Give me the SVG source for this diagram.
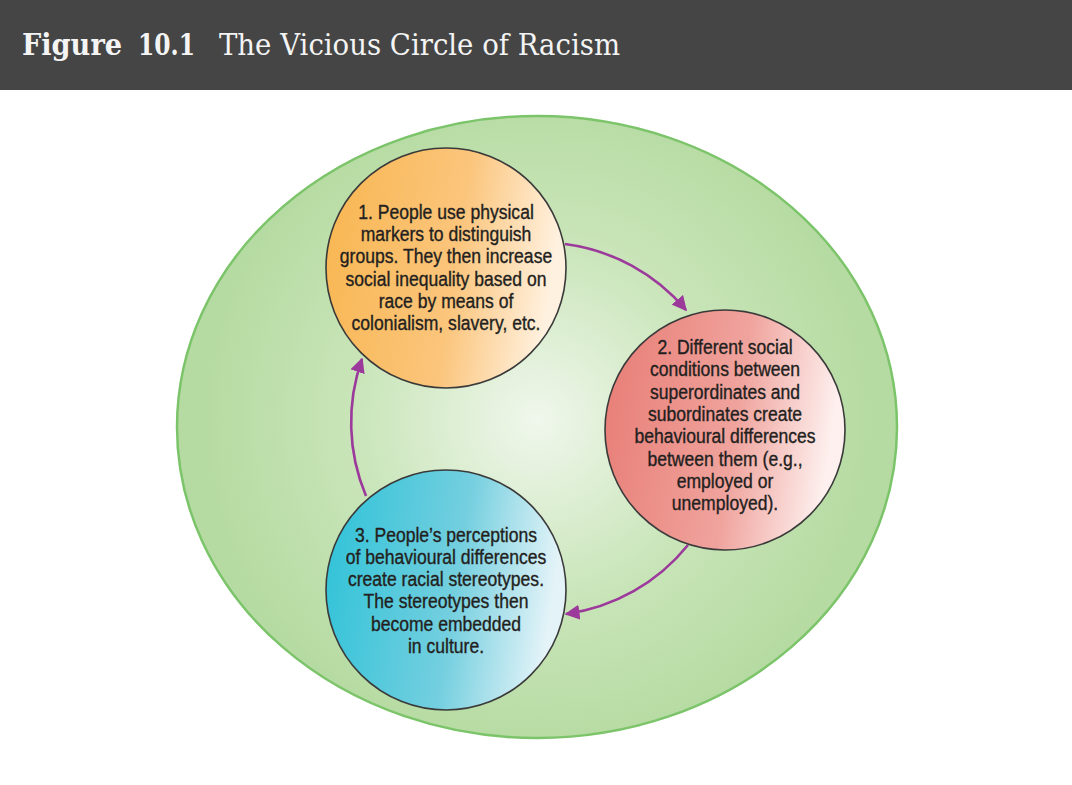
<svg xmlns="http://www.w3.org/2000/svg" width="1072" height="785" viewBox="0 0 1072 785">
<defs>
<style>
.title{font-family:"DejaVu Serif","Liberation Serif",serif;fill:#f4f4f4;font-size:29px}
.lbl{font-family:"Liberation Sans",Arial,sans-serif;font-size:19.5px;fill:#231f20;stroke:#231f20;stroke-width:0.35;text-anchor:middle}
.node{stroke:#3a3a3a;stroke-width:1.6}
.conn{fill:none;stroke:#9c3a9c;stroke-width:2.6}
</style>
<radialGradient id="bg" cx="537" cy="420" r="330" gradientUnits="userSpaceOnUse">
<stop offset="0" stop-color="#f0f7ec"/>
<stop offset="0.55" stop-color="#c9e5b9"/>
<stop offset="1" stop-color="#b6dba2"/>
</radialGradient>
<linearGradient id="g1" x1="0" y1="0" x2="1" y2="0.15">
<stop offset="0" stop-color="#f8b650"/>
<stop offset="0.6" stop-color="#fbc57c"/>
<stop offset="1" stop-color="#fff1df"/>
</linearGradient>
<linearGradient id="g2" x1="0" y1="0" x2="1" y2="0.15">
<stop offset="0" stop-color="#e77c74"/>
<stop offset="0.6" stop-color="#f0a39d"/>
<stop offset="1" stop-color="#fdf0ee"/>
</linearGradient>
<linearGradient id="g3" x1="0" y1="0" x2="1" y2="0.15">
<stop offset="0" stop-color="#2dc2d8"/>
<stop offset="0.6" stop-color="#74cfdf"/>
<stop offset="1" stop-color="#e3f3f8"/>
</linearGradient>
<marker id="ah" viewBox="0 0 10 10" refX="9" refY="5" markerWidth="15" markerHeight="15" markerUnits="userSpaceOnUse" orient="auto">
<path d="M0,0 L10,5 L0,10 Z" fill="#9c3a9c"/>
</marker>
</defs>
<rect x="0" y="0" width="1072" height="785" fill="#ffffff"/>
<g id="header">
<rect x="0" y="0" width="1072" height="90" fill="#454545"/>
<text class="title" x="22" y="55" font-weight="bold" textLength="100" lengthAdjust="spacingAndGlyphs">Figure</text>
<text class="title" x="138" y="55" font-weight="bold" textLength="57" lengthAdjust="spacingAndGlyphs">10.1</text>
<text class="title" x="219" y="55" textLength="401" lengthAdjust="spacingAndGlyphs">The Vicious Circle of Racism</text>
</g>
<g id="background">
<ellipse cx="537" cy="427" rx="360" ry="311" fill="url(#bg)" stroke="#7cc46a" stroke-width="2.5"/>
</g>
<g id="connectors">
<path class="conn" d="M565,244 A190,190 0 0 1 686,310" marker-end="url(#ah)"/>
<path class="conn" d="M688,545 A190,190 0 0 1 566,614" marker-end="url(#ah)"/>
<path class="conn" d="M366,496 A190,190 0 0 1 362,359" marker-end="url(#ah)"/>
</g>
<g id="node1">
<circle class="node" cx="446" cy="268" r="120" fill="url(#g1)"/>
<g transform="translate(446,0) scale(0.9,1)">
<text class="lbl" x="0" y="219">1. People use physical</text>
<text class="lbl" x="0" y="241">markers to distinguish</text>
<text class="lbl" x="0" y="263">groups. They then increase</text>
<text class="lbl" x="0" y="286">social inequality based on</text>
<text class="lbl" x="0" y="308">race by means of</text>
<text class="lbl" x="0" y="330">colonialism, slavery, etc.</text>
</g>
</g>
<g id="node2">
<circle class="node" cx="725" cy="430" r="120" fill="url(#g2)"/>
<g transform="translate(725,0) scale(0.9,1)">
<text class="lbl" x="0" y="354">2. Different social</text>
<text class="lbl" x="0" y="376">conditions between</text>
<text class="lbl" x="0" y="399">superordinates and</text>
<text class="lbl" x="0" y="421">subordinates create</text>
<text class="lbl" x="0" y="443">behavioural differences</text>
<text class="lbl" x="0" y="466">between them (e.g.,</text>
<text class="lbl" x="0" y="488">employed or</text>
<text class="lbl" x="0" y="510">unemployed).</text>
</g>
</g>
<g id="node3">
<circle class="node" cx="446" cy="590" r="120" fill="url(#g3)"/>
<g transform="translate(446,0) scale(0.9,1)">
<text class="lbl" x="0" y="542">3. People’s perceptions</text>
<text class="lbl" x="0" y="564">of behavioural differences</text>
<text class="lbl" x="0" y="586">create racial stereotypes.</text>
<text class="lbl" x="0" y="608">The stereotypes then</text>
<text class="lbl" x="0" y="631">become embedded</text>
<text class="lbl" x="0" y="653">in culture.</text>
</g>
</g>
</svg>
